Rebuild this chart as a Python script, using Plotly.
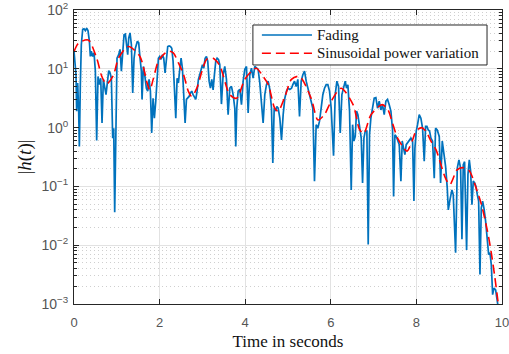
import plotly.graph_objects as go

# Channel gain samples |h(t)| in dB (20*log10|h|) versus time in seconds
t_fading = [
    0.000, 0.047, 0.062, 0.086, 0.109, 0.125, 0.148, 0.171, 0.203, 0.234,
    0.265, 0.296, 0.327, 0.359, 0.382, 0.405, 0.436, 0.468, 0.499, 0.530,
    0.561, 0.592, 0.624, 0.655, 0.686, 0.717, 0.748, 0.779, 0.811, 0.842,
    0.873, 0.904, 0.928, 0.951, 0.974, 1.005, 1.044, 1.076, 1.107, 1.138,
    1.169, 1.200, 1.231, 1.255, 1.278, 1.309, 1.341, 1.372, 1.403, 1.434,
    1.481, 1.512, 1.543, 1.574, 1.590, 1.621, 1.652, 1.691, 1.722, 1.754,
    1.785, 1.816, 1.847, 1.878, 1.910, 1.941, 1.972, 2.003, 2.035, 2.066,
    2.097, 2.128, 2.159, 2.190, 2.222, 2.253, 2.284, 2.315, 2.346, 2.378,
    2.409, 2.440, 2.471, 2.502, 2.533, 2.565, 2.596, 2.627, 2.658, 2.689,
    2.720, 2.751, 2.782, 2.814, 2.845, 2.876, 2.907, 2.938, 2.970, 3.001,
    3.032, 3.063, 3.094, 3.125, 3.157, 3.188, 3.219, 3.250, 3.281, 3.312,
    3.344, 3.375, 3.406, 3.445, 3.484, 3.523, 3.562, 3.601, 3.640, 3.679,
    3.718, 3.757, 3.780, 3.803, 3.835, 3.874, 3.913, 3.952, 3.991, 4.030,
    4.069, 4.108, 4.146, 4.185, 4.224, 4.263, 4.302, 4.341, 4.380, 4.419,
    4.458, 4.497, 4.536, 4.575, 4.614, 4.645, 4.677, 4.708, 4.739, 4.770,
    4.809, 4.848, 4.887, 4.926, 4.965, 5.004, 5.043, 5.082, 5.113, 5.152,
    5.191, 5.230, 5.269, 5.308, 5.347, 5.386, 5.425, 5.464, 5.502, 5.541,
    5.580, 5.619, 5.658, 5.697, 5.736, 5.775, 5.814, 5.853, 5.892, 5.931,
    5.970, 6.009, 6.064, 6.103, 6.142, 6.181, 6.220, 6.259, 6.298, 6.337,
    6.368, 6.399, 6.438, 6.477, 6.509, 6.540, 6.571, 6.602, 6.633, 6.672,
    6.711, 6.742, 6.774, 6.805, 6.843, 6.874, 6.905, 6.936, 6.975, 7.014,
    7.053, 7.092, 7.131, 7.170, 7.209, 7.248, 7.287, 7.326, 7.365, 7.404,
    7.443, 7.467, 7.498, 7.529, 7.560, 7.599, 7.638, 7.669, 7.700, 7.731,
    7.762, 7.794, 7.833, 7.872, 7.911, 7.942, 7.965, 7.996, 8.027, 8.066,
    8.105, 8.144, 8.183, 8.215, 8.246, 8.277, 8.308, 8.339, 8.378, 8.417,
    8.448, 8.487, 8.534, 8.565, 8.604, 8.643, 8.682, 8.721, 8.745, 8.784,
    8.830, 8.861, 8.916, 8.955, 8.994, 9.033, 9.064, 9.095, 9.126, 9.173,
    9.204, 9.236, 9.267, 9.298, 9.329, 9.360, 9.392, 9.423, 9.454, 9.485,
    9.516, 9.547, 9.578, 9.617, 9.656, 9.688, 9.719, 9.750, 9.781, 9.812,
    9.851, 9.890, 9.937,
]
fading_db = [
    26.0, 18.0, 5.6, 15.2, 5.6, -6.4, 14.6, 28.2, 33.4, 33.6,
    33.0, 33.8, 33.0, 29.4, 24.2, 26.0, 24.2, 25.4, 19.2, -4.4,
    17.4, 14.6, 16.8, 1.6, 16.4, 13.0, 11.2, 15.2, 19.4, 18.6,
    16.8, -3.6, -0.2, -28.8, 1.6, 23.6, 24.8, 26.6, 19.2, 26.0,
    31.6, 31.8, 26.0, 24.8, 30.4, 32.2, 28.2, 11.8, 23.6, 27.0,
    29.4, 28.8, 23.6, 19.2, 9.6, 20.8, 18.0, 13.4, 12.4, 16.4,
    12.4, -1.8, 10.0, 3.2, 9.0, 18.0, 23.6, 24.2, 23.2, 24.8,
    23.6, 18.6, 24.8, 27.6, 27.8, 27.6, 27.0, 22.6, 13.4, 3.2,
    16.8, 15.2, 19.8, 23.6, 20.2, 11.2, 1.6, 9.6, 10.0, 10.6,
    11.8, 12.4, 11.2, 10.6, 9.6, 12.4, 16.4, 18.0, 20.2, 21.4,
    20.2, 23.6, 24.2, 22.6, 15.8, 13.4, 16.4, 12.8, 18.0, 22.6,
    23.6, 23.2, 21.4, 8.0, 18.0, 20.8, 16.4, 4.4, 13.4, 14.0,
    11.2, 6.6, -6.4, 6.6, 12.4, 13.0, 7.8, 15.8, 19.8, 20.8,
    5.0, 18.0, 20.2, 16.8, 20.8, 20.4, 19.8, 15.2, 6.6, 1.6,
    11.2, 14.6, 15.8, 13.0, 6.6, -12.0, 6.6, 5.6, 7.2, 6.6,
    3.2, -4.2, 4.4, 10.0, 12.4, 13.4, 13.0, 13.4, 14.6, 15.8,
    14.0, 16.4, 3.8, 15.8, 18.0, 19.2, 15.8, 13.4, 11.2, 9.0,
    6.6, -18.2, 1.0, -0.2, 2.2, 6.6, 11.2, 13.4, 14.6, 14.6,
    12.4, 6.6, -9.6, 11.2, 15.8, 14.0, -1.8, 11.2, 14.0, 15.8,
    13.4, 14.6, 5.6, -21.2, 1.0, -4.6, -3.0, 5.6, 4.4, 1.0,
    -3.6, -18.8, -3.6, -1.2, -1.2, -39.8, -2.4, 3.2, 6.6, 10.0,
    10.2, 6.6, 9.0, 6.0, 7.8, 4.4, 9.0, 9.6, 7.8, 5.6,
    -0.8, -23.4, -2.4, -3.0, -4.2, -5.8, -18.2, -4.6, -7.0, -9.2,
    -5.8, -5.2, -4.2, -3.6, -4.6, -25.0, -7.0, -1.2, 1.0, 4.4,
    3.2, -0.2, -11.4, 0.4, 0.4, -0.8, -1.2, -3.6, -4.6, -17.2,
    -0.2, -0.8, -3.0, -18.8, -4.6, -9.2, -13.2, -20.6, -28.0, -24.6,
    -21.2, -22.8, -42.6, -13.8, -11.0, -13.8, -38.0, -12.6, -11.6, -41.6,
    -16.0, -11.0, -14.8, -26.2, -18.2, -18.8, -20.0, -22.8, -25.0, -50.0,
    -27.4, -25.0, -27.4, -31.8, -38.6, -43.2, -42.6, -46.6, -56.8, -54.6,
    -55.2, -59.0, -63.6,
]

# Slow sinusoidal power variation (large-scale gain) in dB
t_power = [
    0.00, 0.10, 0.33, 0.53, 0.65, 0.76, 0.92, 1.04, 1.27, 1.54,
    1.70, 1.77, 1.85, 1.97, 2.09, 2.21, 2.32, 2.44, 2.56, 2.67,
    2.75, 2.87, 2.99, 3.10, 3.25, 3.41, 3.48, 3.64, 3.80, 3.99,
    4.15, 4.26, 4.42, 4.54, 4.69, 4.77, 4.93, 5.08, 5.27, 5.54,
    5.70, 5.85, 6.01, 6.24, 6.52, 6.67, 6.77, 6.94, 7.20, 7.33,
    7.44, 7.56, 7.68, 7.78, 7.91, 7.99, 8.12, 8.22, 8.34, 8.46,
    8.68, 8.78, 8.95, 9.07, 9.23, 9.41, 9.52, 9.66, 9.75, 9.83,
    9.91, 9.96,
]
power_db = [
    25.8, 28.6, 29.8, 23.6, 17.4, 14.8, 17.8, 23.6, 27.6, 24.2,
    15.6, 12.8, 16.4, 22.6, 24.8, 26.0, 25.4, 22.0, 18.0, 12.4,
    10.6, 13.4, 19.2, 23.2, 23.6, 21.0, 18.0, 11.2, 10.0, 16.4,
    19.2, 20.2, 17.4, 14.6, 6.6, 5.6, 10.6, 16.4, 17.4, 10.0,
    2.6, 4.4, 9.0, 13.4, 7.8, -0.6, -2.0, 4.4, 7.8, 6.2,
    1.6, -3.6, -6.4, -8.0, -4.2, -1.2, 0.0, -1.2, -4.6, -7.6,
    -17.2, -19.4, -14.4, -13.6, -14.6, -21.2, -26.2, -35.2, -42.6, -50.6,
    -59.6, -65.0,
]

# Axis ticks
x_ticks = [0, 2, 4, 6, 8, 10]
y_ticks = [1e-3, 1e-2, 1e-1, 1e0, 1e1, 1e2]
y_tick_text = ["10<sup>\u22123</sup>", "10<sup>\u22122</sup>", "10<sup>\u22121</sup>",
               "10<sup>0</sup>", "10<sup>1</sup>", "10<sup>2</sup>"]
series_names = ["Fading", "Sinusoidal power variation"]

fading = [10 ** (g / 20) for g in fading_db]
power = [10 ** (g / 20) for g in power_db]

axis_color = "#262626"
blue = "#0072BD"
red = "#FF0000"
sans = "Liberation Sans, Arial, sans-serif"
serif = "Liberation Serif, Times New Roman, serif"

fig = go.Figure()
fig.add_trace(go.Scatter(
    x=t_fading, y=fading, mode="lines", name=series_names[0],
    line=dict(color=blue, width=1.7), showlegend=False,
))
fig.add_trace(go.Scatter(
    x=t_power, y=power, mode="lines", name=series_names[1],
    line=dict(color=red, width=1.6, dash="9px,5px", shape="spline", smoothing=0.8),
    showlegend=False,
))

# Boxed legend in the upper right of the axes
lx0, lx1, ly0, ly1 = 0.418, 0.965, 0.813, 0.949
sample_x0, sample_x1, text_x = 0.439, 0.556, 0.563
row_y = [0.915, 0.853]
shapes = [
    dict(type="rect", xref="paper", yref="paper", x0=lx0, x1=lx1, y0=ly0, y1=ly1,
         line=dict(color=axis_color, width=1), fillcolor="white", layer="above"),
    dict(type="line", xref="paper", yref="paper", x0=sample_x0, x1=sample_x1,
         y0=row_y[0], y1=row_y[0], line=dict(color=blue, width=1.7), layer="above"),
    dict(type="line", xref="paper", yref="paper", x0=sample_x0, x1=sample_x1,
         y0=row_y[1], y1=row_y[1], line=dict(color=red, width=1.6, dash="9px,5px"), layer="above"),
]
annotations = [
    dict(xref="paper", yref="paper", x=text_x, y=yy, text=name, showarrow=False,
         xanchor="left", yanchor="middle", font=dict(family=serif, size=15, color="#111111"))
    for yy, name in zip(row_y, series_names)
]

fig.update_layout(
    width=509, height=354,
    margin=dict(l=74, r=7, t=10, b=50, autoexpand=False),
    paper_bgcolor="white", plot_bgcolor="white",
    showlegend=False,
    shapes=shapes, annotations=annotations,
)

fig.update_xaxes(
    range=[0, 10], tickvals=x_ticks, ticktext=[str(v) for v in x_ticks],
    automargin=False, ticklabeloverflow="allow",
    showline=True, linecolor=axis_color, linewidth=1, mirror="ticks",
    ticks="inside", ticklen=5, tickcolor=axis_color, tickwidth=1,
    showgrid=True, gridcolor="#e2e2e2", gridwidth=1, zeroline=False,
    tickfont=dict(family=sans, size=13, color="#555555"), ticklabelstandoff=6,
    title=dict(text="Time in seconds", font=dict(family=serif, size=17, color="#111111"), standoff=6),
)
fig.update_yaxes(
    type="log", range=[-3, 2], tickvals=y_ticks, ticktext=y_tick_text,
    automargin=False, ticklabeloverflow="allow",
    showline=True, linecolor=axis_color, linewidth=1, mirror="ticks",
    ticks="inside", ticklen=5, tickcolor=axis_color, tickwidth=1,
    showgrid=True, gridcolor="#e2e2e2", gridwidth=1, zeroline=False,
    tickfont=dict(family=sans, size=14, color="#555555"),
    ticklabelstandoff=2,
    minor=dict(dtick="D1", ticks="inside", ticklen=3, tickcolor=axis_color,
               showgrid=True, gridcolor="#cfcfcf", griddash="1px,3px", gridwidth=1),
    title=dict(text="|<i>h</i>(<i>t</i>)|", font=dict(family=serif, size=19, color="#111111"), standoff=4),
)

fig.write_html("out.html")
